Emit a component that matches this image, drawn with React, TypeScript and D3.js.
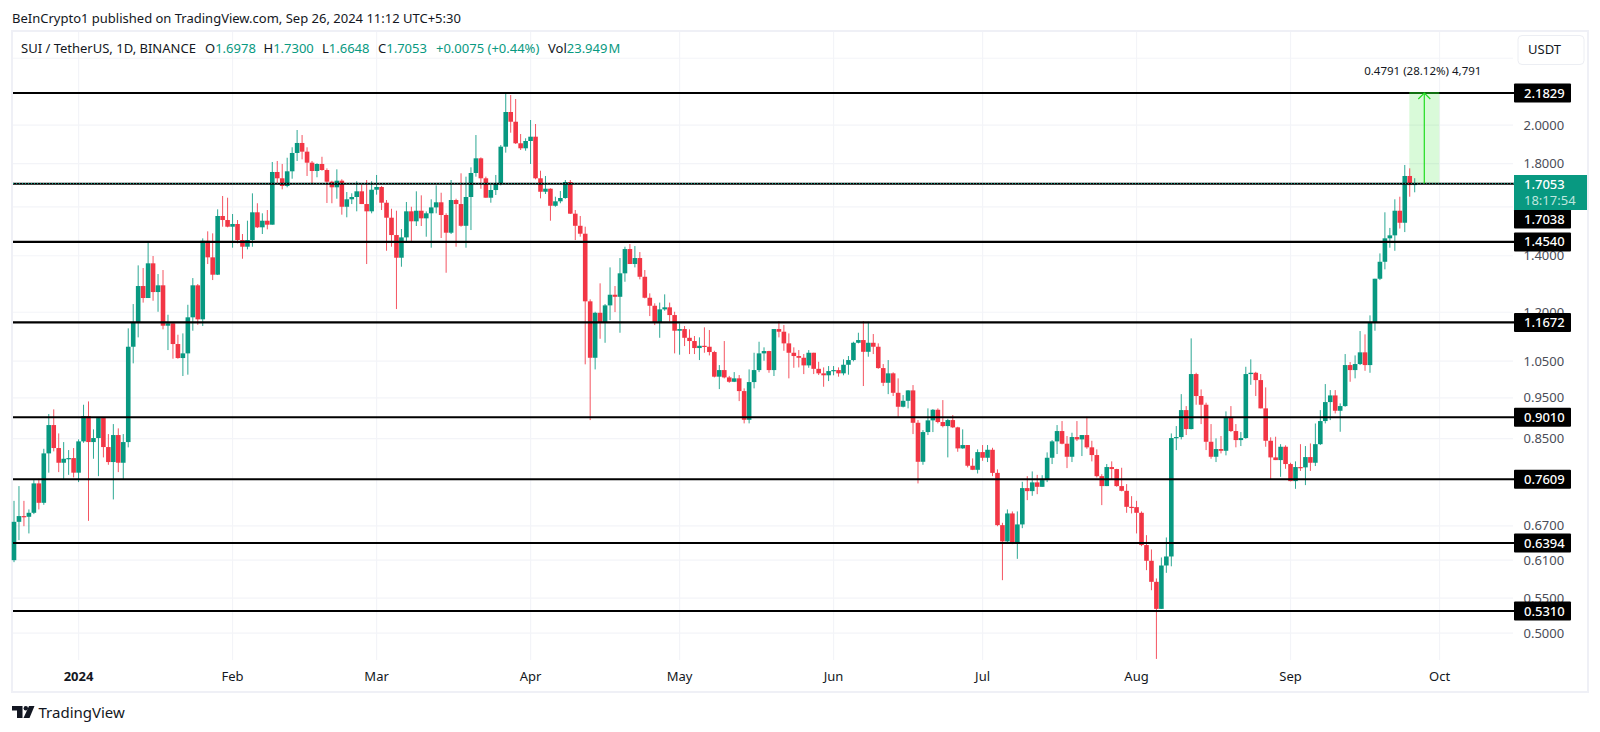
import React from "react";
import * as d3 from "d3";

const firstOpen = 0.61;
const closes = [
0.6773,0.688,0.6867,0.6942,0.7522,0.7134,0.8164,0.882,0.8284,0.7958,
0.8045,0.806,0.7745,0.8436,0.904,0.842,0.8513,0.899,0.8306,0.7973,
0.8583,0.7958,0.842,1.0922,1.1684,1.289,1.2475,1.3714,1.268,1.2915,
1.1567,1.1643,1.1003,1.059,1.0726,1.1835,1.2915,1.177,1.4586,1.394,
1.3295,1.5605,1.5434,1.5155,1.5268,1.4614,1.435,1.4614,1.5763,1.513,
1.5405,1.5239,1.7596,1.7296,1.6937,1.7629,1.8533,1.9046,1.86,1.8049,
1.7643,1.7985,1.7691,1.7136,1.6876,1.7183,1.6003,1.6332,1.6435,1.6692,
1.6122,1.5805,1.6765,1.689,1.6181,1.5532,1.4814,1.3925,1.472,1.5805,
1.538,1.5831,1.5506,1.572,1.5976,1.6199,1.5647,1.4909,1.63,1.6122,
1.5193,1.6435,1.7548,1.8265,1.7296,1.6403,1.6751,1.7029,1.8854,2.0726,
2.0183,1.903,1.8772,1.9149,1.9375,1.7296,1.6672,1.6811,1.6046,1.6243,
1.639,1.7122,1.5703,1.5193,1.4868,1.2363,1.0598,1.1983,1.1684,1.2227,
1.2587,1.2517,1.3345,1.4259,1.3688,1.3913,1.322,1.2484,1.2214,1.1684,
1.2095,1.2162,1.1908,1.141,1.1462,1.1192,1.1093,1.0883,1.095,1.0922,
1.0765,1.0065,1.0248,1.0045,0.9926,1.0019,0.9677,0.8948,0.9918,1.0248,
1.0726,1.0794,1.0248,1.1462,1.1379,1.1023,1.0744,1.0648,1.0598,1.038,
1.0744,1.0283,1.0157,1.0103,1.022,1.0248,1.0157,1.0398,1.0532,1.1041,
1.1123,1.0772,1.1041,1.0922,1.0304,0.9899,1.0157,0.9632,0.9272,0.9424,
0.9695,0.8875,0.7979,0.8653,0.8934,0.9196,0.8893,0.8796,0.8941,0.8765,
0.8276,0.8352,0.7893,0.7806,0.8193,0.8067,0.8245,0.7741,0.6712,0.642,
0.693,0.6385,0.6725,0.7426,0.7365,0.7543,0.7452,0.759,0.8067,0.8436,
0.8677,0.8382,0.8089,0.8536,0.8482,0.8583,0.83,0.8127,0.7672,0.7467,
0.7865,0.7822,0.7467,0.7371,0.7056,0.705,0.6942,0.6357,0.609,0.575,
0.5341,0.6012,0.6162,0.8513,0.8536,0.9188,0.8724,1.0137,0.9547,0.9323,
0.8427,0.8089,0.8261,0.8222,0.8997,0.8677,0.8466,0.8513,1.0137,1.0173,
0.9972,0.9231,0.845,0.8075,0.8016,0.8313,0.793,0.7569,0.7865,0.7858,
0.8082,0.7958,0.8372,0.8917,0.9391,0.9563,0.9171,0.9289,1.0389,1.0248,
1.0418,1.0756,1.0389,1.1662,1.3149,1.3772,1.4682,1.4802,1.5831,1.532,
1.7405,1.6978,1.7053];

const highs = [
0.7172,0.7467,0.7172,0.7006,0.759,0.7617,0.8267,0.9089,0.9206,0.8621,
0.842,0.8238,0.8284,0.8482,0.9323,0.9408,0.8717,0.9007,0.9007,0.8606,
0.8844,0.8741,0.8606,1.1484,1.2272,1.3638,1.3539,1.4507,1.399,1.3319,
1.3465,1.1918,1.1643,1.1286,1.1327,1.2247,1.3173,1.296,1.4681,1.4965,
1.4883,1.5891,1.648,1.6403,1.569,1.5434,1.4856,1.5405,1.66,1.6157,
1.572,1.5861,1.8083,1.8132,1.7985,1.8294,1.8823,1.9732,1.9464,1.8823,
1.8132,1.8019,1.8341,1.7772,1.7183,1.7724,1.7248,1.666,1.66,1.7155,
1.6995,1.7215,1.7155,1.7453,1.6937,1.63,1.5916,1.5831,1.506,1.6213,
1.6003,1.6692,1.651,1.58,1.6332,1.6966,1.6628,1.572,1.7215,1.6358,
1.7533,1.7373,1.7822,1.9464,1.8312,1.7373,1.698,1.7453,1.8939,2.1811,
2.171,2.1474,1.9517,1.929,2.0278,2.0058,1.7658,1.7405,1.683,1.6448,
1.6705,1.7215,1.7215,1.5861,1.5605,1.5155,1.243,1.2016,1.2985,1.2272,
1.3563,1.289,1.3913,1.435,1.4455,1.4376,1.4143,1.3465,1.2635,1.2296,
1.232,1.26,1.232,1.2016,1.1643,1.1557,1.1453,1.1246,1.1205,1.1516,
1.1431,1.0802,1.0389,1.1093,1.0086,1.0192,1.011,0.9749,1.0267,1.0744,
1.1072,1.0904,1.0802,1.1462,1.1715,1.1588,1.1327,1.0904,1.0823,1.0706,
1.0823,1.0744,1.0483,1.0323,1.0361,1.0361,1.0323,1.0552,1.0648,1.1072,
1.1347,1.1715,1.1693,1.1307,1.1023,1.0418,1.0532,1.0185,1.0019,0.9572,
0.9703,0.9837,0.8941,0.87,0.9231,0.9213,0.9231,0.9442,0.8973,0.9064,
0.8779,0.8717,0.8352,0.8053,0.8254,0.8352,0.8352,0.829,0.7815,0.6755,
0.7006,0.6968,0.6968,0.7555,0.7672,0.7772,0.7699,0.7692,0.8186,0.8466,
0.882,0.8917,0.856,0.8637,0.8917,0.8583,0.9023,0.845,0.8254,0.7713,
0.793,0.7988,0.7828,0.785,0.7507,0.7265,0.7172,0.6968,0.6531,0.6281,
0.5803,0.6145,0.649,0.8621,0.8796,0.9597,0.9289,1.1174,1.0173,0.9721,
0.9375,0.8844,0.8506,0.856,0.9155,0.9289,0.8844,0.8653,1.0341,1.0552,
1.02,1.0137,0.9775,0.853,0.8544,0.8372,0.8345,0.7958,0.7988,0.8372,
0.8329,0.8388,0.8858,0.9188,0.9864,0.9703,0.9703,0.9358,1.0706,1.0475,
1.0667,1.14,1.1297,1.1898,1.3149,1.409,1.5763,1.5105,1.6332,1.6448,
1.7935,1.7772,1.73];

const lows = [
0.6067,0.6443,0.6693,0.6562,0.6917,0.7006,0.7095,0.7745,0.8209,0.7757,
0.7604,0.7699,0.7645,0.7549,0.8404,0.6791,0.8045,0.7672,0.8075,0.7914,
0.72,0.7757,0.7604,0.8299,1.0438,1.1205,1.232,1.2475,1.2382,1.2016,
1.1453,1.0823,1.057,1.057,1.0083,1.012,1.141,1.1597,1.1557,1.3688,
1.3102,1.3283,1.5155,1.513,1.4311,1.4482,1.3887,1.4247,1.435,1.5101,
1.4856,1.5047,1.5239,1.7029,1.6783,1.6876,1.7276,1.8132,1.8215,1.7405,
1.7061,1.7344,1.7658,1.6169,1.6157,1.6358,1.566,1.5549,1.6122,1.5805,
1.6122,1.3688,1.572,1.654,1.5861,1.4192,1.435,1.2105,1.3587,1.4546,
1.4546,1.5184,1.5184,1.4747,1.4311,1.572,1.4695,1.3366,1.4856,1.435,
1.5155,1.4311,1.5018,1.7373,1.6811,1.6403,1.6181,1.6525,1.6966,1.8549,
1.9588,1.8992,1.8684,1.8649,1.7985,1.7248,1.6374,1.657,1.5405,1.6003,
1.6157,1.6358,1.569,1.4614,1.4747,1.041,0.8941,1.0267,1.1162,1.1041,
1.1747,1.2006,1.1347,1.3041,1.3688,1.3563,1.3127,1.2464,1.1875,1.1588,
1.1192,1.2049,1.1693,1.0726,1.0687,1.0942,1.0706,1.0706,1.0532,1.0744,
1.0667,1.0045,0.973,1.0019,0.9899,0.9918,0.9416,0.8861,0.8861,0.9749,
1.0192,1.0512,1.0173,1.0083,1.1205,1.0802,1.0019,1.0312,1.0323,1.0137,
1.0312,1.0137,1.011,0.9792,0.9945,1.0103,1.0065,1.0103,1.012,1.0495,
1.1023,0.9811,1.0628,1.0706,1.0283,0.9811,0.9597,0.9547,0.9023,0.9256,
0.9231,0.8606,0.7522,0.7914,0.8583,0.8653,0.8861,0.8765,0.8075,0.8748,
0.82,0.8267,0.7858,0.78,0.7728,0.8,0.7973,0.7672,0.6693,0.5776,
0.6395,0.6373,0.6122,0.6657,0.7186,0.7272,0.7304,0.7452,0.7549,0.793,
0.8149,0.8368,0.7843,0.7973,0.8443,0.8105,0.8267,0.7988,0.7645,0.7089,
0.7467,0.7604,0.7452,0.736,0.6942,0.693,0.6562,0.6338,0.5936,0.562,
0.4659,0.5341,0.5893,0.5999,0.8238,0.8482,0.8583,0.8717,0.9323,0.8844,
0.8238,0.8045,0.7973,0.8164,0.812,0.8653,0.83,0.8329,0.8496,0.9845,
0.9547,0.9231,0.8313,0.7604,0.8016,0.7658,0.7828,0.7564,0.7411,0.7783,
0.7487,0.7783,0.7887,0.8352,0.8861,0.8941,0.9105,0.866,0.9272,0.9926,
1.0019,1.0389,1.0228,1.0173,1.141,1.3102,1.3491,1.4311,1.4192,1.508,
1.4935,1.6448,1.6648];

const opens = [firstOpen, ...closes.slice(0, -1)];

const levels = [2.1829, 1.7038, 1.454, 1.1672, 0.901, 0.7609, 0.6394, 0.531];
const levelLabels = ["2.1829", "1.7038", "1.4540", "1.1672", "0.9010", "0.7609", "0.6394", "0.5310"];
const priceTicks = [2, 1.8, 1.4, 1.2, 1.05, 0.95, 0.85, 0.67, 0.61, 0.55, 0.5];
const gridPrices = [2.4, 2, 1.8, 1.6, 1.4, 1.2, 1.05, 0.95, 0.85, 0.76, 0.67, 0.61, 0.55, 0.5];
const monthLabels = ["2024", "Feb", "Mar", "Apr", "May", "Jun", "Jul", "Aug", "Sep", "Oct"];
const monthIndex = [13, 44, 73, 104, 134, 165, 195, 226, 257, 287];
const lastPrice = 1.7053;
const targetPrice = 2.1829;

const UP = "#089981";
const DOWN = "#f23645";
const FONT = "'Noto Sans', sans-serif";

const x = d3.scaleLinear().domain([0, 282]).range([14, 1414.7]);
const y = d3.scaleLog().domain([2.1829, 0.531]).range([93, 611]);

// Labels that the chart nudged off their own price to avoid an overlap.
const labelCentre = (p: number) => (p === 1.7038 ? 219 : y(p));

export default function App() {
  const rectL = x(282) - 5.4;
  const rectR = rectL + 30;
  const arrowX = (rectL + rectR) / 2;
  const yLast = y(lastPrice);
  const yTarget = y(targetPrice);
  return (
    <svg
      width={1600}
      height={732}
      viewBox="0 0 1600 732"
      style={{ position: "absolute", left: 0, top: 0, background: "#fff" }}
      fontFamily={FONT}
    >
      <rect x={0} y={0} width={1600} height={732} fill="#fff" />
      <text x={12} y={22.5} fontSize={13} fill="#131722">
        BeInCrypto1 published on TradingView.com, Sep 26, 2024 11:12 UTC+5:30
      </text>
      <rect x={12} y={31} width={1576} height={661} fill="none" stroke="#eff0f6" strokeWidth={2} />

      {gridPrices.map((p) => (
        <line key={p} x1={13} x2={1513} y1={y(p)} y2={y(p)} stroke="#f3f4f8" strokeWidth={1.2} />
      ))}
      {monthIndex.map((m) => (
        <line key={m} x1={x(m)} x2={x(m)} y1={32} y2={660} stroke="#f3f4f8" strokeWidth={1.2} />
      ))}

      <rect x={rectL} y={yTarget} width={rectR - rectL} height={yLast - yTarget} fill="#00e000" fillOpacity={0.15} />

      {closes.map((c, i) => {
        const o = opens[i];
        const col = c >= o ? UP : DOWN;
        const top = y(Math.max(o, c));
        const bot = y(Math.min(o, c));
        return (
          <g key={i}>
            <line x1={x(i)} x2={x(i)} y1={y(highs[i])} y2={y(lows[i])} stroke={col} strokeWidth={1} strokeOpacity={0.85} />
            <rect x={x(i) - 2.3} y={top} width={4.6} height={Math.max(bot - top, 1.2)} fill={col} />
          </g>
        );
      })}

      {levels.map((p) => (
        <line key={p} x1={13} x2={1514} y1={y(p)} y2={y(p)} stroke="#000" strokeWidth={2.1} />
      ))}
      <line x1={13} x2={1514} y1={yLast} y2={yLast} stroke={UP} strokeWidth={1} strokeDasharray="1 2" />

      <line x1={rectL} x2={rectR} y1={yTarget} y2={yTarget} stroke="#22dd22" strokeWidth={1} />
      <line x1={arrowX} x2={arrowX} y1={yLast} y2={yTarget} stroke="#22dd22" strokeWidth={1.2} />
      <path
        d={`M${arrowX - 6},${yTarget + 6} L${arrowX},${yTarget} L${arrowX + 6},${yTarget + 6}`}
        fill="none"
        stroke="#22dd22"
        strokeWidth={1.2}
      />
      <text x={arrowX - 1.5} y={74.5} fontSize={11.5} textAnchor="middle" fill="#131722">
        0.4791 (28.12%) 4,791
      </text>

      <text x={21} y={53} fontSize={13} fill="#131722">SUI / TetherUS, 1D, BINANCE</text>
      <text x={205} y={53} fontSize={13} fill="#131722">O<tspan fill={UP}>1.6978</tspan></text>
      <text x={263.5} y={53} fontSize={13} fill="#131722">H<tspan fill={UP}>1.7300</tspan></text>
      <text x={322} y={53} fontSize={13} fill="#131722">L<tspan fill={UP}>1.6648</tspan></text>
      <text x={378} y={53} fontSize={13} fill="#131722">C<tspan fill={UP}>1.7053</tspan></text>
      <text x={436} y={53} fontSize={13} fill={UP}>+0.0075 (+0.44%)</text>
      <text x={548} y={53} fontSize={13} fill="#131722">Vol<tspan fill={UP}>23.949</tspan><tspan fill={UP} dx={1}>M</tspan></text>

      {priceTicks.map((p) => (
        <text key={p} x={1523.5} y={y(p) + 4.6} fontSize={13} fill="#4a4d57">
          {p.toFixed(4)}
        </text>
      ))}

      {levels.map((p, i) => (
        <g key={p}>
          <rect x={1514} y={labelCentre(p) - 9.5} width={57} height={19} rx={1} fill="#000" />
          <text x={1524} y={labelCentre(p) + 4.6} fontSize={13} fontWeight={500} fill="#fff">
            {levelLabels[i]}
          </text>
        </g>
      ))}

      <rect x={1514} y={175} width={73} height={35} fill={UP} />
      <text x={1524} y={189} fontSize={13} fontWeight={500} fill="#fff">1.7053</text>
      <text x={1524} y={205} fontSize={13} fill="#bfe6df">18:17:54</text>

      <rect x={1518} y={35.5} width={66} height={29} rx={4} fill="#fff" stroke="#eceef3" strokeWidth={1} />
      <text x={1528} y={54} fontSize={13} fill="#131722">USDT</text>

      {monthLabels.map((m, i) => (
        <text
          key={m}
          x={x(monthIndex[i])}
          y={681}
          fontSize={13}
          textAnchor="middle"
          fontWeight={i === 0 ? 700 : 400}
          fill="#131722"
        >
          {m}
        </text>
      ))}

      <g fill="#131722">
        <path d="M12,706 H22.5 V718 H17 V710.5 H12 Z" />
        <circle cx={25.8} cy={708.2} r={2.2} />
        <path d="M29,706 H34.5 L29.5,718 H23.5 Z" />
      </g>
      <text x={38.5} y={718} fontSize={15} fill="#131722">TradingView</text>
    </svg>
  );
}
